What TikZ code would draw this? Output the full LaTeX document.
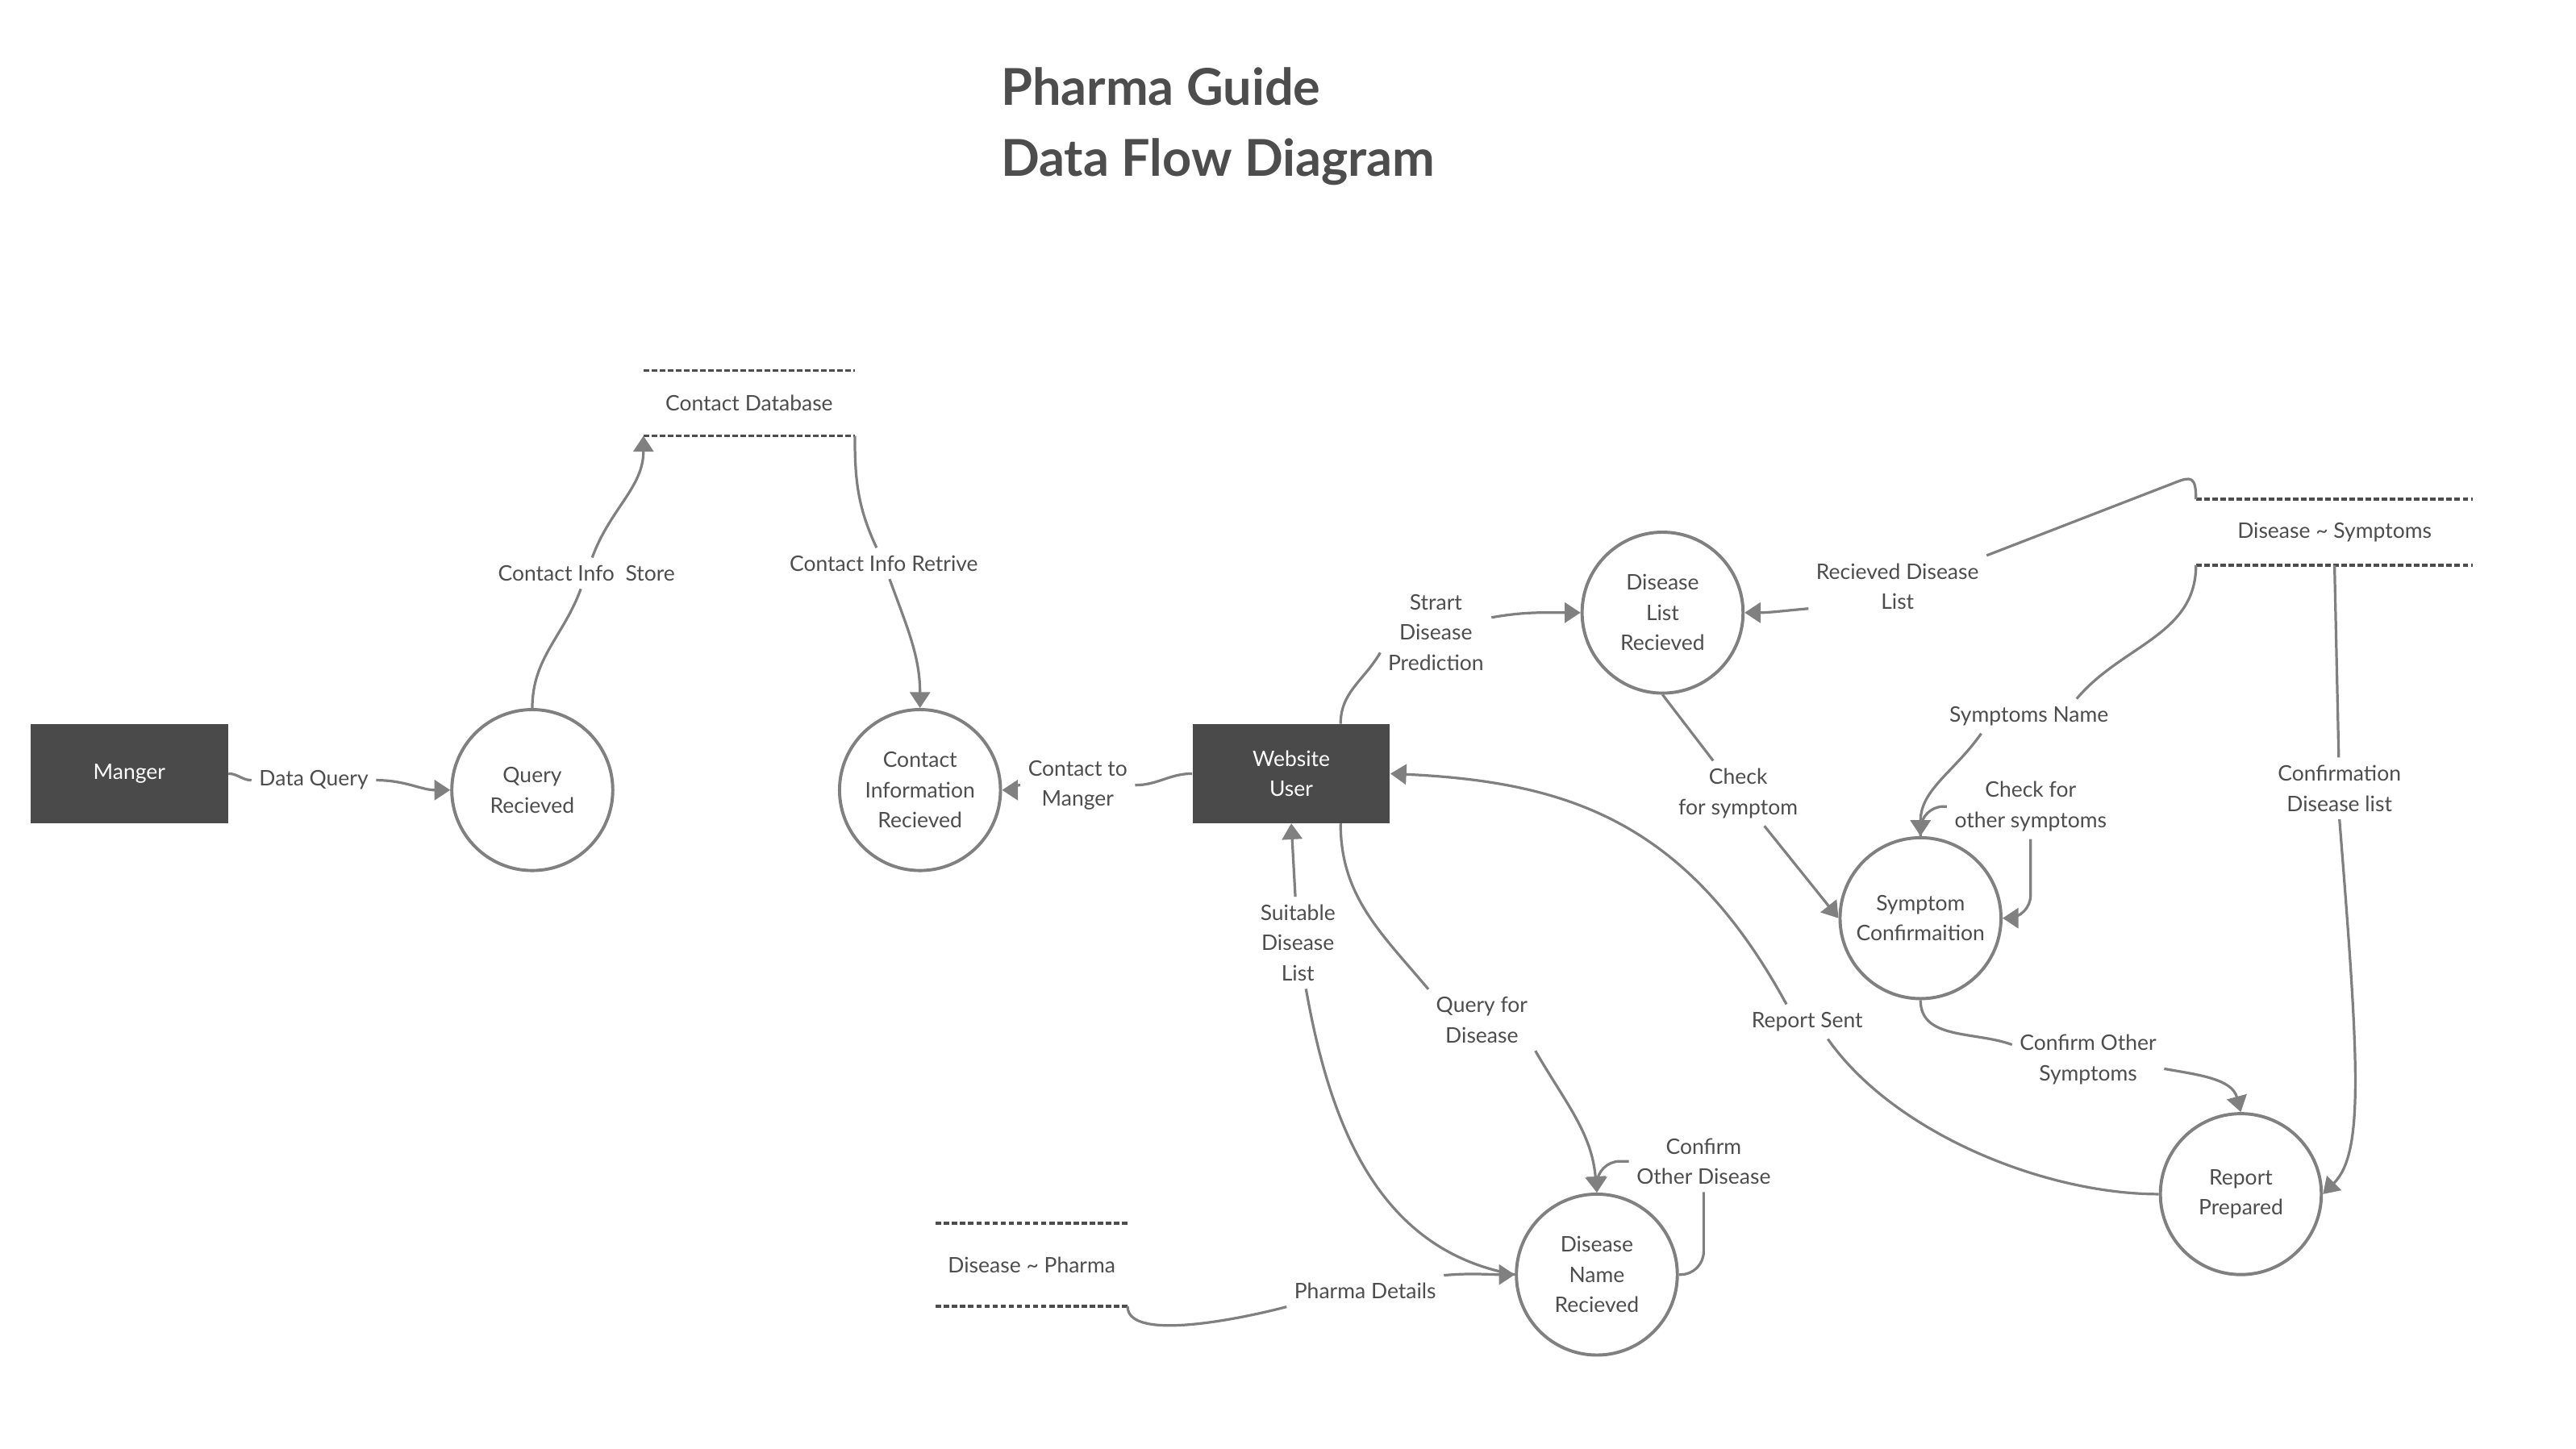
\documentclass[tikz,border=0pt]{standalone}
\usepackage{fontspec}
\setmainfont{Lato}
\usetikzlibrary{calc, arrows.meta, shapes.geometric}
\definecolor{linegray}{HTML}{808080}
\definecolor{txtgray}{HTML}{4D4D4D}
\definecolor{boxgray}{HTML}{4A4A4A}
\newcommand{\lblfont}{\fontsize{7.4}{10.5}\selectfont}

\begin{document}
\begin{tikzpicture}[x=0.02cm, y=0.02cm,
    >={Triangle[length=5.5pt,width=7pt]},
    flow/.style={draw=linegray, line width=0.9pt},
    proc/.style={circle, draw=linegray, line width=1.1pt, minimum size=1.96cm,
        inner sep=0pt, align=center, font=\lblfont, text=txtgray},
    ext/.style={rectangle, fill=boxgray, minimum width=2.4cm, minimum height=1.2cm,
        align=center, font=\lblfont, text=white},
    lbl/.style={align=center, font=\lblfont, text=txtgray, inner sep=2.5pt},
    store/.style={align=center, font=\lblfont, text=txtgray, inner sep=0pt},
    storeline/.style={draw=txtgray, line width=1pt, dash pattern=on 1.9pt off 0.9pt},
    ttl/.style={font=\fontsize{17.6}{20}\selectfont\bfseries, text=txtgray, inner sep=0pt}]
    \useasboundingbox (0,0) rectangle (1568,-882);
    % Title
    \node[ttl, anchor=base west] (ttlA) at (609,-64) {Pharma Guide};
    \node[ttl, anchor=base west] (ttlB) at (609,-107.5) {Data Flow Diagram};
    % External entities
    \node[ext] (mgr) at (78.7,-471) {Manger};
    \node[ext] (wu) at (786,-471) {Website\\User};
    % Processes
    \node[proc] (qRec) at (324,-481) {Query\\Recieved};
    \node[proc] (ciRec) at (560,-481) {Contact\\Information\\Recieved};
    \node[proc] (dlRec) at (1012,-373) {Disease\\List\\Recieved};
    \node[proc] (symConf) at (1169,-559) {Symptom\\Confirmaition};
    \node[proc] (dnRec) at (972,-776) {Disease\\Name\\Recieved};
    \node[proc] (repPrep) at (1364,-727) {Report\\Prepared};
    % Data stores
    \node[store, minimum width=2.56cm, minimum height=0.78cm] (stContact) at (456,-245.5) {Contact Database};
    \draw[storeline] (stContact.north west) -- (stContact.north east);
    \draw[storeline] (stContact.south west) -- (stContact.south east);
    \node[store, minimum width=3.36cm, minimum height=0.79cm] (stSymptoms) at (1421,-324) {Disease \textasciitilde{} Symptoms};
    \draw[storeline] (stSymptoms.north west) -- (stSymptoms.north east);
    \draw[storeline] (stSymptoms.south west) -- (stSymptoms.south east);
    \node[store, minimum width=2.32cm, minimum height=1cm] (stPharma) at (628,-770) {Disease \textasciitilde{} Pharma};
    \draw[storeline] (stPharma.north west) -- (stPharma.north east);
    \draw[storeline] (stPharma.south west) -- (stPharma.south east);
    % Manger side
    \node[lbl] (lDataQuery) at (191,-475) {Data Query};
    \draw[flow] (mgr.east) to[out=0,in=180] (lDataQuery);
    \draw[flow,->] (lDataQuery) to[out=0,in=180] (qRec.west);
    \node[lbl] (lStore) at (357,-349) {Contact Info\ \ Store};
    \draw[flow] (qRec.north) to[out=90,in=-110] (lStore);
    \draw[flow,->] (lStore) to[out=70,in=-90] (stContact.south west);
    \node[lbl] (lRetrive) at (538,-343) {Contact Info Retrive};
    \draw[flow] (stContact.south east) to[out=-90,in=115] (lRetrive);
    \draw[flow,->] (lRetrive) to[out=-70,in=90] (ciRec.north);
    \node[lbl] (lToManger) at (656,-478) {Contact to\\Manger};
    \draw[flow] (wu.west) to[out=180,in=0] (lToManger);
    \draw[flow,->] (lToManger) to[out=180,in=0] (ciRec.east);
    % Disease prediction
    \coordinate (wuTop) at ($(wu.north)+(30,0)$);
    \coordinate (wuBot) at ($(wu.south)+(30,0)$);
    \node[lbl] (lStart) at (874,-385) {Strart\\Disease\\Prediction};
    \draw[flow] (wuTop) to[out=90,in=-120] (lStart.-160);
    \draw[flow,->] (lStart.15) to[out=10,in=180] (dlRec.west);
    \node[lbl] (lRecList) at (1155,-357) {Recieved Disease\\List};
    \draw[flow] (stSymptoms.north west) .. controls +(0,14) and +(10,4) .. ++(-13,10)
        -- (lRecList.north east);
    \draw[flow,->] (lRecList.194) to[out=185,in=0] (dlRec.east);
    \node[lbl] (lCheck) at (1058,-483) {Check\\for symptom};
    \draw[flow] (dlRec.south) -- (lCheck);
    \draw[flow,->] (lCheck) -- (symConf.west);
    \node[lbl] (lSymName) at (1235,-436) {Symptoms Name};
    \draw[flow] (stSymptoms.south west) to[out=-90,in=50] (lSymName.20);
    \draw[flow,->] (lSymName.-160) to[out=-125,in=90] (symConf.north);
    \node[lbl] (lOther) at (1236,-491) {Check for\\other symptoms};
    \draw[flow,rounded corners=8] (symConf.north) |- (lOther.west);
    \draw[flow,->,rounded corners=8] (lOther.south) |- (symConf.east);
    \node[lbl] (lConfSym) at (1271,-645) {Confirm Other\\Symptoms};
    \draw[flow] (symConf.south) to[out=-90,in=160] (lConfSym.169);
    \draw[flow,->] (lConfSym.-7) to[out=-10,in=105] (repPrep.north);
    \node[lbl] (lConfList) at (1424,-480) {Confirmation\\Disease list};
    \draw[flow] (stSymptoms.south) -- (lConfList);
    \draw[flow,->] (lConfList.south) .. controls +(12,-150) and +(25,25) .. (repPrep.east);
    % Report and disease query
    \node[lbl] (lReport) at (1100,-622) {Report Sent};
    \draw[flow] (repPrep.west) .. controls +(-70,0) and +(40,-57) .. (lReport.-40);
    \draw[flow,->] (lReport.140) .. controls +(-60,110) and +(110,-5) .. (wu.east);
    \node[lbl] (lQuery) at (902,-621) {Query for\\Disease};
    \draw[flow] (wuBot) to[out=-90,in=130] (lQuery.north west);
    \draw[flow,->] (lQuery.south east) to[out=-60,in=95] (dnRec.north);
    \node[lbl] (lSuitable) at (790,-574) {Suitable\\Disease\\List};
    \draw[flow] (dnRec.west) to[out=170,in=-80] (lSuitable.-80);
    \draw[flow,->] (lSuitable) -- (wu.south);
    \node[lbl] (lPharma) at (831,-786) {Pharma Details};
    \draw[flow] (stPharma.south east) to[out=-90,in=-165,looseness=0.6] (lPharma.south west);
    \draw[flow,->] (lPharma.north east) to[out=5,in=180] (dnRec.west);
    \node[lbl] (lOtherDis) at (1037,-707) {Confirm\\Other Disease};
    \draw[flow,rounded corners=8] (dnRec.east) -| (lOtherDis.south);
    \draw[flow,->,rounded corners=8] (lOtherDis.west) -| (dnRec.north);
\end{tikzpicture}
\end{document}
